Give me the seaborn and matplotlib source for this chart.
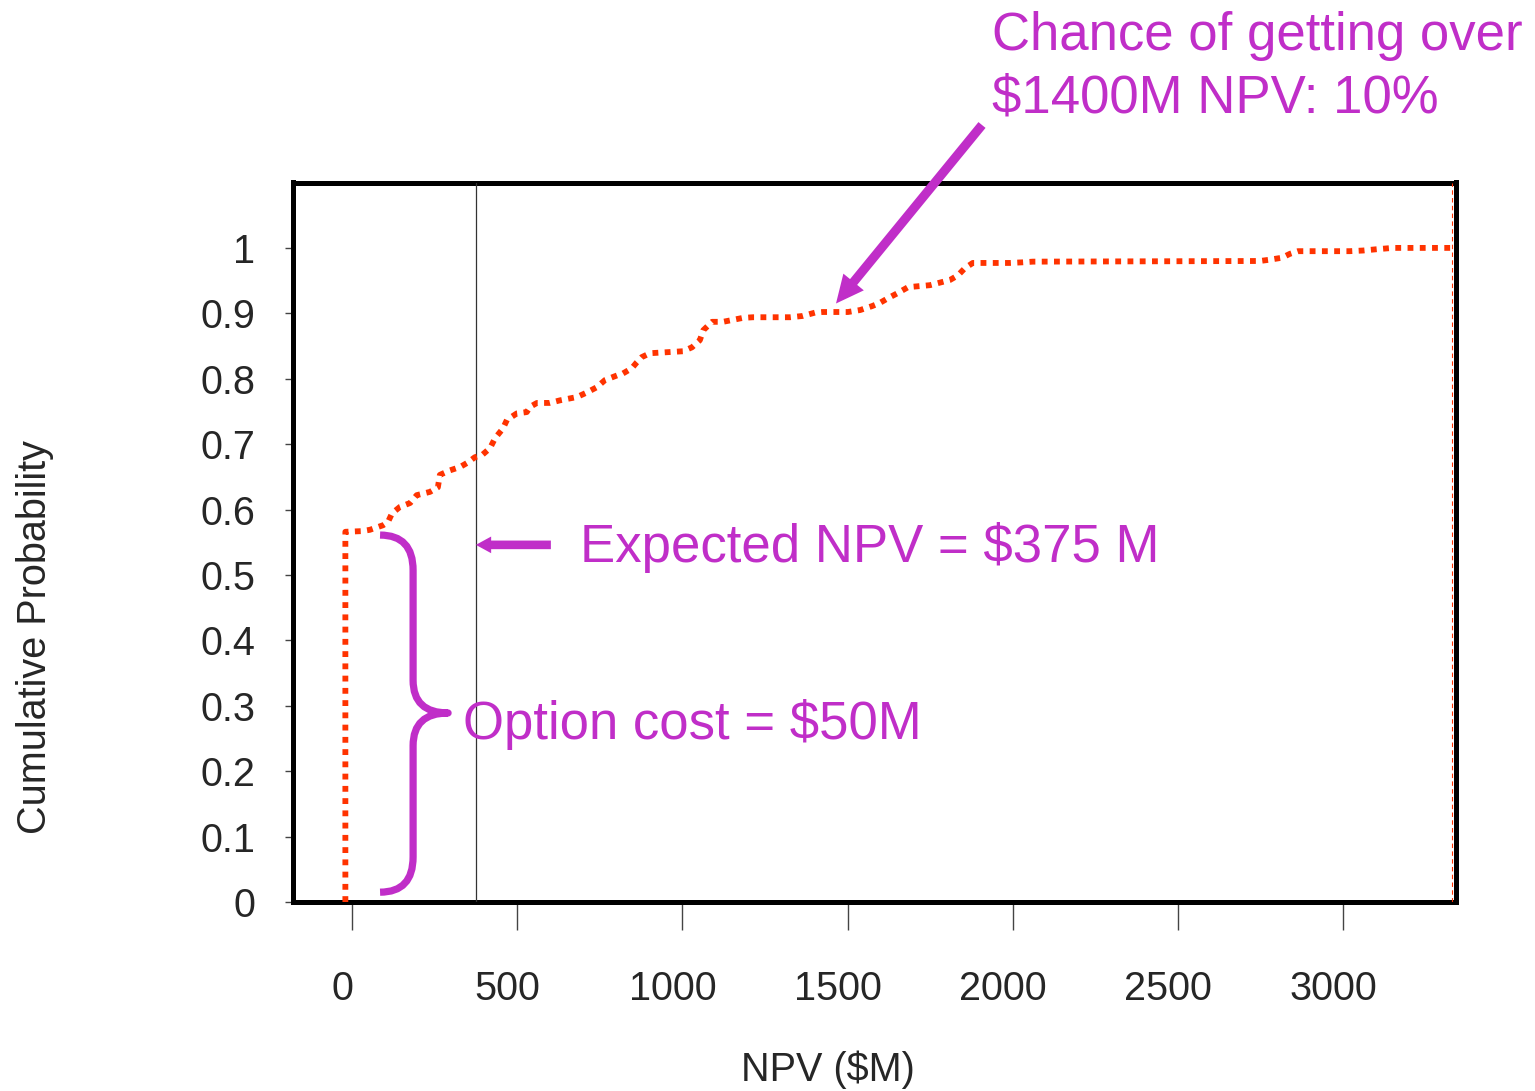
import numpy as np
import pandas as pd
import matplotlib
matplotlib.use("Agg")
import matplotlib.pyplot as plt
from matplotlib.path import Path
from matplotlib.patches import PathPatch
from matplotlib.transforms import ScaledTranslation
import seaborn as sns

# ---------------- data ----------------
npv = [-20, -20, 30, 54, 94, 109, 121, 145, 176, 196, 236, 260, 266, 297, 327,
       351, 372, 393, 418, 433, 457, 469, 499, 529, 539, 560, 599, 630, 681,
       711, 741, 766, 802, 820, 847, 862, 877, 902, 1002, 1029, 1053, 1063,
       1090, 1123, 1183, 1214, 1326, 1365, 1401, 1425, 1501, 1538, 1574, 1598,
       1622, 1652, 1683, 1749, 1780, 1810, 1834, 1855, 1879, 1991, 2031, 2061,
       2748, 2778, 2815, 2839, 2863, 3020, 3060, 3102, 3150, 3329]
cum_prob = [0, 0.566, 0.567, 0.569, 0.576, 0.581, 0.594, 0.604, 0.610, 0.622,
            0.627, 0.634, 0.653, 0.660, 0.665, 0.672, 0.680, 0.683, 0.694,
            0.709, 0.724, 0.737, 0.747, 0.749, 0.757, 0.763, 0.763, 0.767,
            0.772, 0.779, 0.787, 0.798, 0.805, 0.808, 0.816, 0.825, 0.833,
            0.839, 0.842, 0.848, 0.859, 0.874, 0.887, 0.887, 0.893, 0.894,
            0.894, 0.896, 0.901, 0.902, 0.902, 0.905, 0.911, 0.916, 0.923,
            0.931, 0.940, 0.943, 0.947, 0.951, 0.958, 0.969, 0.977, 0.977,
            0.978, 0.979, 0.980, 0.982, 0.985, 0.991, 0.995, 0.995, 0.996,
            0.998, 1.0, 1.0]
expected_npv = 375
x_ticks = [0, 500, 1000, 1500, 2000, 2500, 3000]
x_tick_labels = ["0", "500", "1000", "1500", "2000", "2500", "3000"]
y_ticks = [0, 0.1, 0.2, 0.3, 0.4, 0.5, 0.6, 0.7, 0.8, 0.9, 1.0]
y_tick_labels = ["0", "0.1", "0.2", "0.3", "0.4", "0.5", "0.6", "0.7", "0.8", "0.9", "1"]
x_label = "NPV ($M)"
y_label = "Cumulative Probability"
txt_expected = "Expected NPV = $375 M"
txt_option = "Option cost = $50M"
txt_chance_1 = "Chance of getting over"
txt_chance_2 = "$1400M NPV: 10%"

# ---------------- style ----------------
sns.set_style("white")
plt.rcParams["font.family"] = ["Liberation Sans", "DejaVu Sans"]

RED = "#FF3300"
MAG = "#C02EC8"
W, H = 1535, 1091
DPI = 100

fig = plt.figure(figsize=(W / DPI, H / DPI), dpi=DPI)
fig.patch.set_facecolor("white")


def fx(px):
    return px / W


def fy(py):
    return 1 - py / H


left, right, top, bottom = 292.5, 1455.5, 182.5, 902
ax = fig.add_axes([fx(left), fy(bottom), fx(right) - fx(left), fy(top) - fy(bottom)])
ax.set_facecolor("white")

df = pd.DataFrame({"NPV": npv, "P": cum_prob})
sns.lineplot(data=df, x="NPV", y="P", ax=ax, sort=False, estimator=None,
             color=RED, linewidth=4.2, zorder=4)
line = ax.lines[-1]
line.set_linestyle((0, (1, 1.1)))
line.set_dash_capstyle("butt")

ax.set_xlim(-180, 3340)
ax.set_ylim(0, 1.1)

# expected value line
ax.axvline(expected_npv, color="#333333", lw=0.9, zorder=3)
# thin dashed line along the right edge
ax.axvline(3328, color=RED, lw=0.8, ls=(0, (4, 3)), zorder=3)

# spines
for s in ax.spines.values():
    s.set_visible(True)
    s.set_color("black")
    s.set_linewidth(3.6)

ax.set_xticks(x_ticks)
ax.set_xticklabels(x_tick_labels)
ax.set_yticks(y_ticks)
ax.set_yticklabels(y_tick_labels)
ax.tick_params(axis="x", direction="out", length=20, width=1.0, color="#444444",
               labelsize=28.5, pad=29, bottom=True)
ax.tick_params(axis="y", direction="out", length=6, width=1.0, color="#444444",
               labelsize=28.5, pad=21, left=True)
for lab in ax.get_xticklabels():
    lab.set_transform(lab.get_transform() + ScaledTranslation(-10 / DPI, 0, fig.dpi_scale_trans))
ax.set_xlabel("")
ax.set_ylabel("")

fig.text(fx(828), fy(1070), x_label, fontsize=28.5, ha="center", va="center")
fig.text(fx(35), fy(637), y_label, fontsize=28.5, ha="center", va="center", rotation=90)

# brace (data coordinates)
bx0, bx1, bx2 = 85, 185, 291
by_top, by_bot, by_mid = 0.561, 0.015, 0.289
rv = 0.054
verts = [(bx0, by_top), (bx1, by_top), (bx1, by_top - rv),
         (bx1, by_mid + 0.05), (bx1, by_mid), (bx2, by_mid),
         (bx1, by_mid), (bx1, by_mid - 0.05),
         (bx1, by_bot + rv), (bx1, by_bot), (bx0, by_bot)]
codes = [Path.MOVETO, Path.CURVE3, Path.CURVE3,
         Path.LINETO, Path.CURVE3, Path.CURVE3,
         Path.CURVE3, Path.CURVE3,
         Path.LINETO, Path.CURVE3, Path.CURVE3]
ax.add_patch(PathPatch(Path(verts, codes), fill=False, edgecolor=MAG, lw=5.2,
                       capstyle="butt", joinstyle="round", zorder=5))

# arrows
ax.annotate("", xy=(expected_npv, 0.546), xytext=(602, 0.546), xycoords="data",
            textcoords="data",
            arrowprops=dict(arrowstyle="simple,head_length=0.55,head_width=0.6,tail_width=0.31",
                            color=MAG, lw=0, shrinkA=0, shrinkB=0, mutation_scale=20),
            zorder=6)
ax.annotate("", xy=(1465, 0.915), xytext=(fx(982), fy(125)), xycoords="data",
            textcoords="figure fraction", annotation_clip=False,
            arrowprops=dict(arrowstyle="simple,head_length=1.0,head_width=0.95,tail_width=0.33",
                            color=MAG, lw=0, shrinkA=0, shrinkB=0, mutation_scale=20),
            zorder=6)

# annotation texts
fig.text(fx(580), fy(562), txt_expected, fontsize=38, color=MAG, ha="left", va="baseline")
fig.text(fx(463), fy(739), txt_option, fontsize=38, color=MAG, ha="left", va="baseline")
fig.text(fx(992), fy(50), txt_chance_1, fontsize=38, color=MAG, ha="left", va="baseline")
fig.text(fx(992), fy(113), txt_chance_2, fontsize=38, color=MAG, ha="left", va="baseline")

fig.savefig("out.png", dpi=DPI)
